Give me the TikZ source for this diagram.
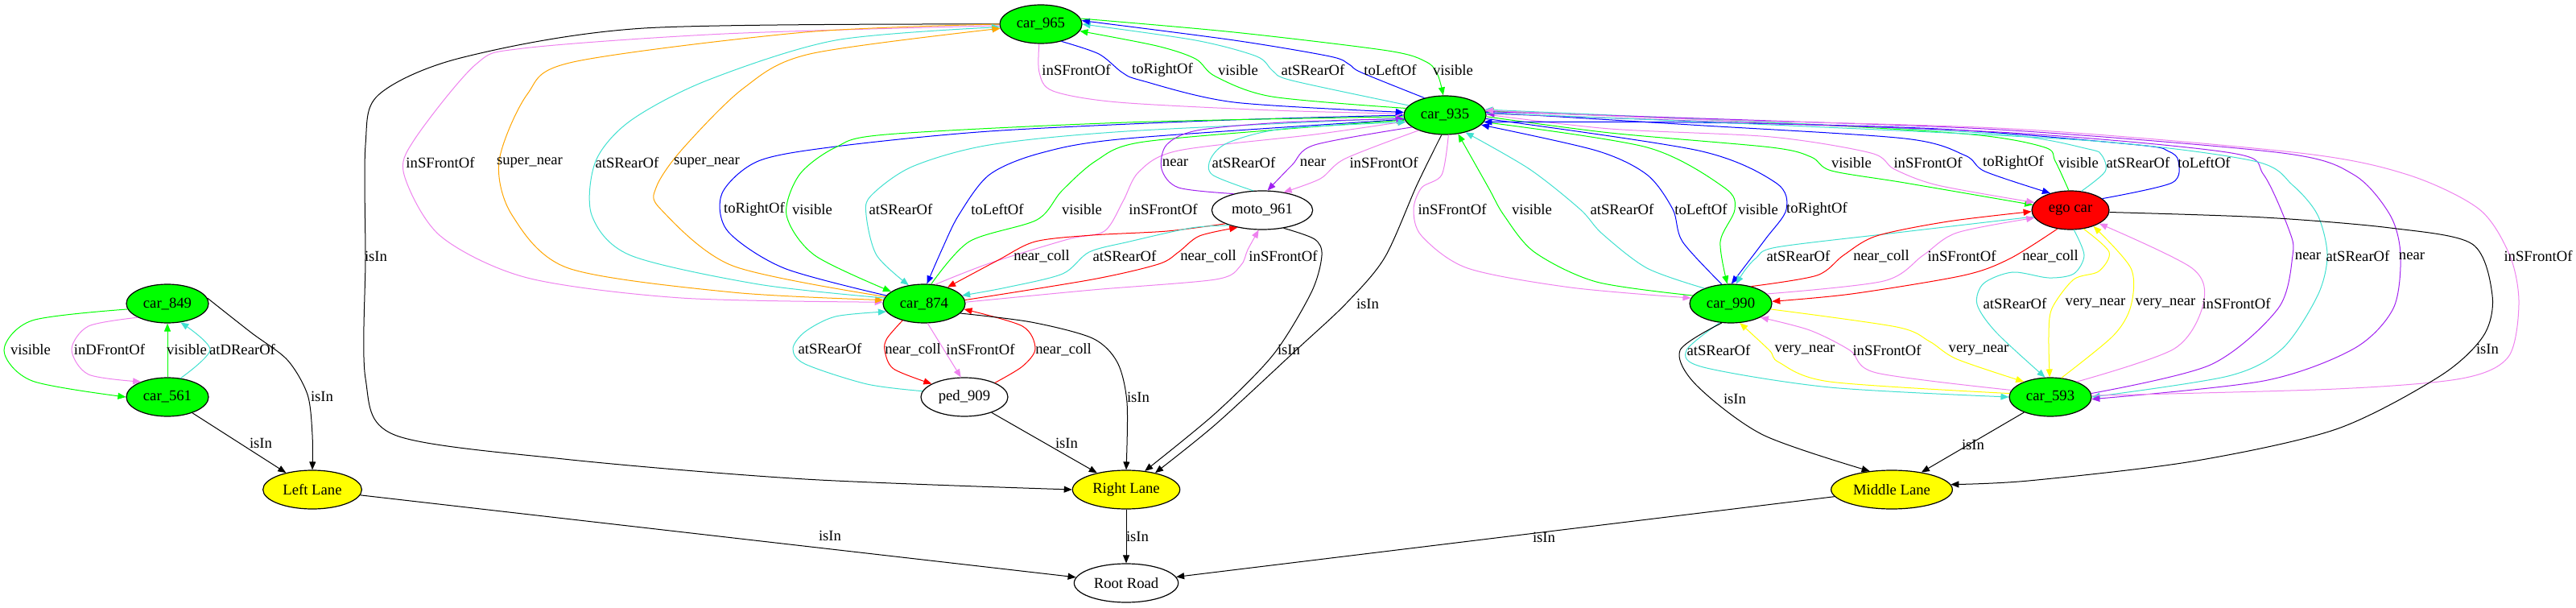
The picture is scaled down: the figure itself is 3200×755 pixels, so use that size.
\documentclass[tikz,border=0pt]{standalone}
\usepackage{fontspec}
\setmainfont{Liberation Serif}
\usetikzlibrary{shapes.geometric,arrows.meta}
\definecolor{gvgreen}{HTML}{00FF00}
\definecolor{gvviolet}{HTML}{EE82EE}
\definecolor{gvturq}{HTML}{40E0D0}
\definecolor{gvblue}{HTML}{0000FF}
\definecolor{gvorange}{HTML}{FFA500}
\definecolor{gvred}{HTML}{FF0000}
\definecolor{gvyellow}{HTML}{FFFF00}
\definecolor{gvpurple}{HTML}{A020F0}

\begin{document}
\begin{tikzpicture}[x=0.75pt, y=0.75pt,
  font=\fontsize{14}{16}\selectfont,
  obj/.style={ellipse, draw, line width=0.9pt, inner sep=0pt, minimum height=36pt},
  car/.style={obj, fill=gvgreen, minimum width=76.5pt},
  lane/.style={obj, fill=gvyellow},
  lab/.style={inner sep=0pt},
  rel/.style={line width=0.75pt, -{Triangle[length=7.5pt,width=6pt]}},
  vis/.style={rel, gvgreen},
  front/.style={rel, gvviolet},
  rear/.style={rel, gvturq},
  side/.style={rel, gvblue},
  snear/.style={rel, gvorange},
  coll/.style={rel, gvred},
  vnear/.style={rel, gvyellow},
  pnear/.style={rel, gvpurple},
  isin/.style={rel, black}
]
\useasboundingbox (0,0) rectangle (3200,-755);

\node[car] (c965) at (1293,-30) {car\_965};
\node[car] (c935) at (1795,-143) {car\_935};
\node[obj, minimum width=94pt] (moto) at (1568,-261) {moto\_961};
\node[obj, fill=gvred, minimum width=72pt] (ego) at (2572,-261) {ego car};
\node[car] (c849) at (208,-377) {car\_849};
\node[car] (c874) at (1148,-377) {car\_874};
\node[car] (c990) at (2150,-377) {car\_990};
\node[car] (c561) at (208,-493) {car\_561};
\node[obj, minimum width=81pt] (ped) at (1198,-493) {ped\_909};
\node[car] (c593) at (2547,-493) {car\_593};
\node[lane, minimum width=92pt] (LL) at (388,-608) {Left Lane};
\node[lane, minimum width=100pt] (RL) at (1399,-608) {Right Lane};
\node[lane, minimum width=113pt] (ML) at (2350,-608) {Middle Lane};
\node[obj, minimum width=97pt] (root) at (1399,-724) {Root Road};

\draw[vis] plot[smooth] coordinates {(c849.188) (40,-398) (5,-435) (40,-473) (c561.180)};
\draw[front] plot[smooth] coordinates {(c849.205) (110,-405) (89,-434) (110,-465) (c561.150)};
\draw[vis] (c561) -- (c849);
\draw[rear] plot[smooth] coordinates {(c561.55) (261,-434) (c849.-55)};
\draw[isin] plot[smooth] coordinates {(c849.8) (312,-413) (357,-447) (382,-490) (388,-540) (LL.90)};
\draw[isin] (c561) -- (LL);
\draw[isin] (LL) -- (root);
\node[lab] (l1) at (38,-434) {visible};
\node[lab] (l2) at (136,-434) {inDFrontOf};
\node[lab] (l3) at (232,-434) {visible};
\node[lab] (l4) at (301,-434) {atDRearOf};
\node[lab] (l5) at (400,-492) {isIn};
\node[lab] (l6) at (324,-550) {isIn};
\node[lab] (l7) at (1031,-665) {isIn};

\draw[isin] plot[smooth] coordinates {(c965.180) (800,-35) (572,-72) (470,-118) (454,-180) (454,-320) (454,-470) (490,-540) (700,-570) (1000,-595) (RL.180)};
\node[lab] (l8) at (467,-318) {isIn};

\draw[front] plot[smooth] coordinates {(c965.182) (900,-42) (650,-60) (591,-80) (515,-173) (502,-217) (547,-293) (655,-345) (846,-370) (c874.178)};
\draw[snear] plot[smooth] coordinates {(c965.180) (1000,-40) (712,-77) (655,-117) (620,-200) (636,-267) (706,-333) (910,-363) (c874.175)};
\draw[rear] plot[smooth] coordinates {(c874.172) (942,-353) (783,-317) (735,-267) (740,-200) (783,-150) (878,-100) (1038,-50) (c965.184)};
\draw[snear] plot[smooth] coordinates {(c874.170) (910,-330) (821,-260) (815,-233) (846,-187) (923,-110) (1006,-67) (c965.186)};
\node[lab] (l9) at (547,-202) {inSFrontOf};
\node[lab] (l10) at (658,-202) {super\_near};
\node[lab] (l11) at (779,-202) {atSRearOf};
\node[lab] (l12) at (878,-202) {super\_near};

\draw[side] plot[smooth] coordinates {(c874.168) (974,-333) (904,-287) (897,-240) (942,-200) (1038,-182) (1229,-163) (1500,-150) (c935.180)};
\draw[vis] plot[smooth] coordinates {(c935.182) (1400,-152) (1101,-167) (1038,-183) (993,-217) (977,-267) (1012,-317) (c874.160)};
\draw[rear] plot[smooth] coordinates {(c935.184) (1400,-163) (1229,-180) (1133,-207) (1082,-243) (1076,-267) (1089,-317) (c874.130)};
\draw[side] plot[smooth] coordinates {(c935.186) (1400,-172) (1293,-190) (1229,-217) (1191,-267) (1170,-310) (c874.82)};
\draw[vis] plot[smooth] coordinates {(c874.70) (1204,-300) (1288,-273) (1319,-237) (1361,-200) (1415,-177) (1600,-160) (c935.187)};
\draw[front] plot[smooth] coordinates {(c874.60) (1229,-327) (1327,-297) (1372,-287) (1395,-250) (1415,-213) (1464,-187) (1633,-167) (c935.189)};
\node[lab] (l13) at (937,-260) {toRightOf};
\node[lab] (l14) at (1009,-260) {visible};
\node[lab] (l15) at (1119,-260) {atSRearOf};
\node[lab] (l16) at (1239,-260) {toLeftOf};
\node[lab] (l17) at (1344,-260) {visible};
\node[lab] (l18) at (1445,-260) {inSFrontOf};

\draw[coll] plot[smooth] coordinates {(moto.200) (1450,-287) (1357,-292) (1286,-300) (1240,-323) (c874.35)};
\draw[rear] plot[smooth] coordinates {(moto.205) (1480,-283) (1403,-300) (1353,-313) (1320,-340) (1250,-357) (c874.12)};
\draw[coll] plot[smooth] coordinates {(c874.5) (1357,-347) (1439,-328) (1464,-313) (1490,-293) (moto.215)};
\draw[front] plot[smooth] coordinates {(c874.2) (1357,-360) (1510,-347) (1541,-330) (1550,-310) (moto.260)};
\node[lab] (l19) at (1294,-318) {near\_coll};
\node[lab] (l20) at (1397,-318) {atSRearOf};
\node[lab] (l21) at (1501,-318) {near\_coll};
\node[lab] (l22) at (1594,-318) {inSFrontOf};

\draw[coll] plot[smooth] coordinates {(c874.218) (1102,-420) (1099,-435) (1110,-458) (ped.158)};
\draw[front] (c874.-80) -- (ped.100);
\draw[coll] plot[smooth] coordinates {(ped.25) (1270,-455) (1286,-433) (1270,-405) (c874.-8)};
\draw[rear] plot[smooth] coordinates {(ped.172) (1077,-477) (1000,-452) (985,-433) (1000,-412) (1038,-393) (c874.192)};
\node[lab] (l23) at (1134,-434) {near\_coll};
\node[lab] (l24) at (1218,-434) {inSFrontOf};
\node[lab] (l25) at (1321,-434) {near\_coll};
\node[lab] (l26) at (1031,-433) {atSRearOf};

\draw[isin] plot[smooth] coordinates {(c874.-15) (1281,-400) (1357,-420) (1388,-450) (1400,-500) (RL.90)};
\draw[isin] (ped) -- (RL);
\draw[isin] plot[smooth] coordinates {(moto.-40) (1633,-297) (1642,-317) (1629,-363) (1582,-440) (1510,-513) (RL.45)};
\draw[isin] plot[smooth] coordinates {(c935.-100) (1760,-230) (1720,-320) (1672,-377) (1612,-433) (1510,-527) (RL.30)};
\draw[isin] (RL) -- (root);
\draw[isin] (ML) -- (root);
\node[lab] (l27) at (1414,-493) {isIn};
\node[lab] (l28) at (1325,-550) {isIn};
\node[lab] (l29) at (1601,-434) {isIn};
\node[lab] (l30) at (1699,-377) {isIn};
\node[lab] (l31) at (1413,-666) {isIn};
\node[lab] (l32) at (1918,-667) {isIn};

\draw[pnear] plot[smooth] coordinates {(moto.150) (1464,-233) (1443,-210) (1449,-180) (1487,-162) (1594,-152) (c935.185)};
\draw[rear] plot[smooth] coordinates {(moto.115) (1506,-217) (1504,-197) (1526,-177) (1594,-160) (c935.190)};
\draw[pnear] plot[smooth] coordinates {(c935.200) (1633,-180) (1605,-205) (moto.75)};
\draw[front] plot[smooth] coordinates {(c935.210) (1671,-197) (1640,-222) (moto.40)};
\node[lab] (l33) at (1460,-202) {near};
\node[lab] (l34) at (1545,-202) {atSRearOf};
\node[lab] (l35) at (1631,-202) {near};
\node[lab] (l36) at (1719,-202) {inSFrontOf};

\draw[front] plot[smooth] coordinates {(c965.265) (1291,-90) (1308,-113) (1389,-127) (1581,-137) (c935.178)};
\draw[side] plot[smooth] coordinates {(c965.-40) (1365,-67) (1394,-90) (1418,-100) (1533,-127) (c935.176)};
\draw[vis] plot[smooth] coordinates {(c935.170) (1580,-120) (1510,-95) (1485,-73) (1437,-57) (c965.-10)};
\draw[rear] plot[smooth] coordinates {(c935.165) (1605,-100) (1581,-88) (1561,-70) (1485,-50) (c965.0)};
\draw[side] plot[smooth] coordinates {(c935.140) (1691,-90) (1676,-80) (1652,-70) (1533,-50) (c965.5)};
\draw[vis] plot[smooth] coordinates {(c965.8) (1533,-40) (1724,-63) (1772,-77) (1786,-93) (c935.95)};
\node[lab] (l37) at (1337,-87) {inSFrontOf};
\node[lab] (l38) at (1444,-87) {toRightOf};
\node[lab] (l39) at (1538,-87) {visible};
\node[lab] (l40) at (1631,-87) {atSRearOf};
\node[lab] (l41) at (1727,-87) {toLeftOf};
\node[lab] (l42) at (1805,-87) {visible};

\draw[front] plot[smooth] coordinates {(c935.-80) (1791,-217) (1766,-233) (1756,-260) (1766,-293) (1823,-333) (1951,-357) (c990.172)};
\draw[vis] plot[smooth] coordinates {(c990.168) (1983,-350) (1906,-313) (1868,-267) (1849,-233) (c935.-55)};
\draw[rear] plot[smooth] coordinates {(c990.150) (2046,-333) (1990,-290) (1963,-260) (1900,-210) (c935.-40)};
\draw[side] plot[smooth] coordinates {(c990.115) (2090,-300) (2078,-260) (2046,-217) (1983,-187) (c935.-15)};
\draw[vis] plot[smooth] coordinates {(c935.-10) (2046,-183) (2142,-233) (2155,-260) (2137,-300) (c990.100)};
\draw[side] plot[smooth] coordinates {(c935.-5) (2110,-187) (2206,-227) (2219,-260) (2193,-297) (c990.88)};
\node[lab] (l43) at (1804,-260) {inSFrontOf};
\node[lab] (l44) at (1903,-260) {visible};
\node[lab] (l45) at (2015,-260) {atSRearOf};
\node[lab] (l46) at (2113,-260) {toLeftOf};
\node[lab] (l47) at (2184,-260) {visible};
\node[lab] (l48) at (2257,-260) {toRightOf};

\draw[vis] plot[smooth] coordinates {(c935.-2) (2000,-165) (2200,-183) (2250,-195) (2275,-212) (2366,-227) (ego.172)};
\draw[front] plot[smooth] coordinates {(c935.1) (2000,-160) (2200,-170) (2324,-190) (2353,-210) (2407,-230) (ego.168)};
\draw[side] plot[smooth] coordinates {(c935.4) (2100,-155) (2366,-172) (2441,-193) (2466,-213) (ego.140)};
\draw[vis] plot[smooth] coordinates {(ego.95) (2553,-200) (2540,-183) (2449,-167) (2200,-152) (c935.6)};
\draw[rear] plot[smooth] coordinates {(ego.60) (2615,-213) (2611,-193) (2594,-185) (2490,-167) (2200,-152) (c935.8)};
\draw[side] plot[smooth] coordinates {(ego.20) (2698,-227) (2706,-200) (2694,-188) (2656,-180) (2407,-160) (2100,-152) (c935.-10)};
\node[lab] (l49) at (2300,-202) {visible};
\node[lab] (l50) at (2395,-202) {inSFrontOf};
\node[lab] (l51) at (2501,-202) {toRightOf};
\node[lab] (l52) at (2582,-202) {visible};
\node[lab] (l53) at (2656,-202) {atSRearOf};
\node[lab] (l54) at (2738,-202) {toLeftOf};

\draw[pnear] plot[smooth] coordinates {(c593.5) (2746,-453) (2830,-383) (2848,-317) (2844,-287) (2812,-217) (2772,-190) (2500,-165) (2100,-150) (c935.2)};
\draw[rear] plot[smooth] coordinates {(c935.3) (2200,-155) (2600,-175) (2800,-200) (2848,-230) (2879,-267) (2891,-317) (2879,-367) (2835,-433) (2768,-467) (c593.0)};
\draw[pnear] plot[smooth] coordinates {(c935.5) (2200,-150) (2500,-162) (2835,-190) (2924,-217) (2969,-267) (2982,-317) (2973,-383) (2924,-433) (2812,-473) (c593.-3)};
\draw[front] plot[smooth] coordinates {(c593.2) (2902,-483) (3058,-470) (3116,-443) (3129,-377) (3118,-318) (3080,-260) (2991,-217) (2857,-190) (2500,-160) (2100,-148) (c935.7)};
\node[lab] (l55) at (2867,-318) {near};
\node[lab] (l56) at (2929,-318) {atSRearOf};
\node[lab] (l57) at (2996,-318) {near};
\node[lab] (l58) at (3153,-318) {inSFrontOf};

\draw[isin] plot[smooth] coordinates {(ego.-3) (2812,-270) (2969,-283) (3071,-303) (3096,-367) (3085,-417) (3031,-467) (2902,-533) (2723,-573) (2520,-597) (ML.5)};
\node[lab] (l59) at (3090,-433) {isIn};

\draw[rear] plot[smooth] coordinates {(ego.190) (2356,-289) (2207,-307) (2182,-320) (2168,-335) (c990.75)};
\draw[coll] plot[smooth] coordinates {(c990.40) (2257,-342) (2290,-317) (2331,-293) (2420,-275) (ego.182)};
\draw[front] plot[smooth] coordinates {(c990.15) (2340,-349) (2389,-317) (2431,-289) (ego.192)};
\draw[coll] plot[smooth] coordinates {(ego.235) (2497,-321) (2439,-342) (2300,-365) (c990.3)};
\node[lab] (l60) at (2234,-318) {atSRearOf};
\node[lab] (l61) at (2337,-318) {near\_coll};
\node[lab] (l62) at (2437,-318) {inSFrontOf};
\node[lab] (l63) at (2547,-318) {near\_coll};

\draw[rear] plot[smooth] coordinates {(ego.-80) (2589,-317) (2576,-340) (2545,-345) (2500,-338) (2464,-352) (2456,-378) (2480,-413) (c593.105)};
\draw[vnear] plot[smooth] coordinates {(ego.-55) (2620,-313) (2607,-337) (2576,-347) (2549,-383) (2545,-417) (c593.92)};
\draw[vnear] plot[smooth] coordinates {(c593.60) (2625,-417) (2647,-380) (2647,-333) (ego.-35)};
\draw[front] plot[smooth] coordinates {(c593.30) (2701,-433) (2737,-377) (2723,-333) (ego.-25)};
\node[lab] (l64) at (2503,-377) {atSRearOf};
\node[lab] (l65) at (2603,-377) {very\_near};
\node[lab] (l66) at (2690,-377) {very\_near};
\node[lab] (l67) at (2778,-377) {inSFrontOf};

\draw[rear] plot[smooth] coordinates {(c990.-120) (2095,-435) (2116,-456) (2273,-481) (c593.180)};
\draw[vnear] plot[smooth] coordinates {(c593.175) (2273,-474) (2210,-450) (2198,-435) (c990.-65)};
\draw[front] plot[smooth] coordinates {(c593.170) (2331,-463) (2298,-435) (2248,-410) (c990.-25)};
\draw[vnear] plot[smooth] coordinates {(c990.-8) (2356,-406) (2397,-424) (2431,-446) (c593.150)};
\draw[isin] plot[smooth] coordinates {(c990.-115) (2087,-435) (2107,-478) (2190,-540) (ML.140)};
\draw[isin] (c593) -- (ML);
\node[lab] (l68) at (2135,-435) {atSRearOf};
\node[lab] (l69) at (2242,-435) {very\_near};
\node[lab] (l70) at (2344,-435) {inSFrontOf};
\node[lab] (l71) at (2458,-435) {very\_near};
\node[lab] (l72) at (2155,-495) {isIn};
\node[lab] (l73) at (2451,-552) {isIn};
\end{tikzpicture}
\end{document}
